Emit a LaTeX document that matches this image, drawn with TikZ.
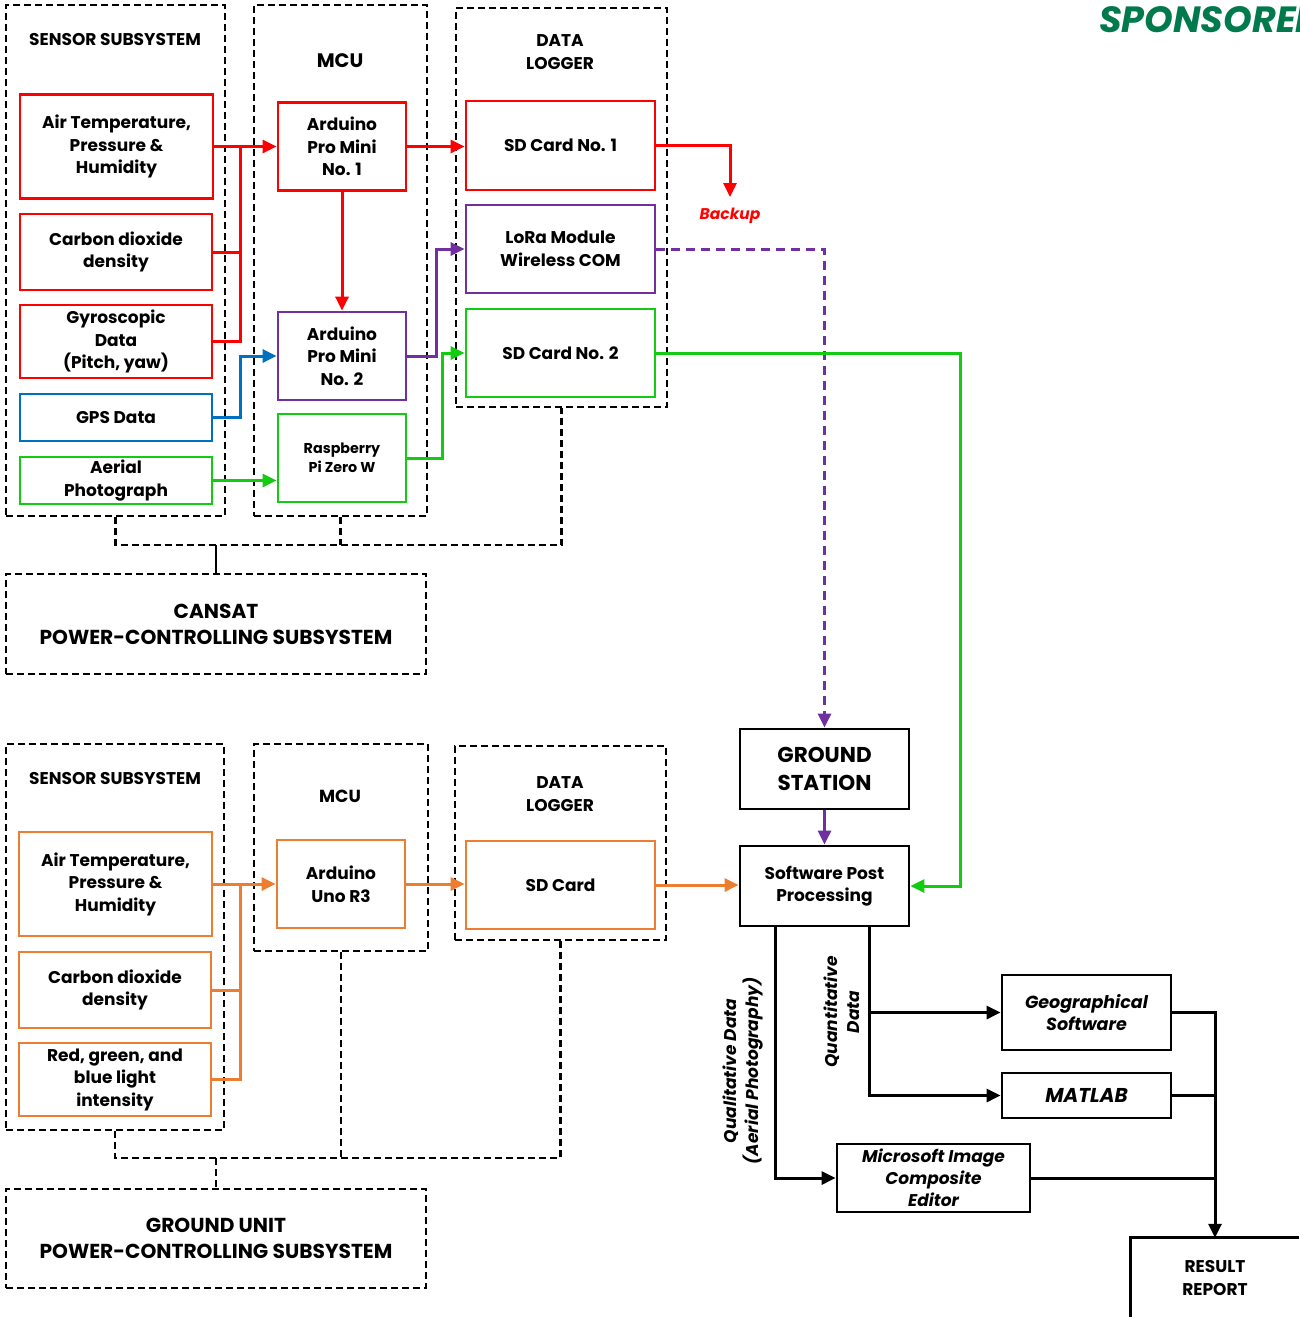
\documentclass[tikz,border=0pt]{standalone}
\usepackage{fontspec}
\setmainfont{Poppins}
\usetikzlibrary{arrows.meta}
\definecolor{cred}{HTML}{FF0000}
\definecolor{cpur}{HTML}{7030A0}
\definecolor{cblu}{HTML}{0070C0}
\definecolor{cgrn}{HTML}{11CC11}
\definecolor{corg}{HTML}{ED7D31}
\definecolor{cspon}{HTML}{007A4D}
\begin{document}
\begin{tikzpicture}[x=1pt,y=-1pt,
  box/.style={draw, line width=2.8pt, rectangle, align=center, inner sep=0pt,
    font=\fontsize{17}{22.5}\selectfont\bfseries},
  ibox/.style={box, font=\fontsize{17.5}{22}\selectfont\bfseries\itshape},
  grp/.style={draw, line width=2.2pt, dash pattern=on 7pt off 4pt, rectangle, inner sep=0pt},
  pw/.style={line width=2.2pt, dash pattern=on 7pt off 4pt},
  ttl/.style={align=center, inner sep=0pt, font=\fontsize{17}{22.5}\selectfont\bfseries},
  con/.style={line width=3pt},
  arr/.style={con, -{Triangle[length=14pt,width=13pt]}},
]
\useasboundingbox (0,0) rectangle (1299,1317);

% ---------- top section containers ----------
\node[grp, minimum width=219, minimum height=511] (s1) at (115.5,260.5) {};
\node[grp, minimum width=173, minimum height=511] (m1) at (340.5,260.5) {};
\node[grp, minimum width=211, minimum height=399] (d1) at (561.5,207.5) {};
\node[ttl] (s1t) at (115,40) {SENSOR SUBSYSTEM};
\node[ttl, font=\fontsize{19.5}{22}\selectfont\bfseries] (m1t) at (340,61) {MCU};
\node[ttl] (d1t) at (560,52) {DATA\\LOGGER};

% sensors
\node[box, draw=cred, minimum width=193, minimum height=104] (air) at (116.5,146.5) {Air Temperature,\\Pressure \&\\Humidity};
\node[box, draw=cred, minimum width=192, minimum height=76] (co2) at (116,252) {Carbon dioxide\\density};
\node[box, draw=cred, minimum width=192, minimum height=73] (gyro) at (116,341.5) {Gyroscopic\\Data\\(Pitch, yaw)};
\node[box, draw=cblu, minimum width=192, minimum height=47] (gps) at (116,417.5) {GPS Data};
\node[box, draw=cgrn, minimum width=192, minimum height=47] (aer) at (116,480.5) {Aerial\\Photograph};
% MCU
\node[box, draw=cred, minimum width=128, minimum height=88] (ard1) at (342,146.5) {Arduino\\Pro Mini\\No. 1};
\node[box, draw=cpur, minimum width=128, minimum height=88] (ard2) at (342,356) {Arduino\\Pro Mini\\No. 2};
\node[box, draw=cgrn, minimum width=128, minimum height=88, font=\fontsize{14.3}{19.5}\selectfont\bfseries] (rasp) at (342,458) {Raspberry\\Pi Zero W};
% data logger
\node[box, draw=cred, minimum width=189, minimum height=89] (sd1) at (560.5,145.5) {SD Card No. 1};
\node[box, draw=cpur, minimum width=189, minimum height=88] (lora) at (560.5,249) {LoRa Module\\Wireless COM};
\node[box, draw=cgrn, minimum width=189, minimum height=88] (sd2) at (560.5,353) {SD Card No. 2};

% power (top)
\node[grp, minimum width=420, minimum height=100, align=center, font=\fontsize{20.2}{26}\selectfont\bfseries] (cansat) at (216,624) {CANSAT\\POWER-CONTROLLING SUBSYSTEM};
\coordinate (j1) at (216,545);
\draw[pw] (s1.south) -- (s1.south |- j1) -- (d1.south |- j1) -- (d1.south);
\draw[pw] (m1.south) -- (m1.south |- j1);
\draw[line width=2.2pt] (j1) -- (cansat.north);

% red connectors
\coordinate (rbus) at (240,146.5);
\draw[con, cred] (gyro.east) -| (rbus);
\draw[con, cred] (co2.east) -- (co2.east -| rbus);
\draw[arr, cred] (air.east) -- (ard1.west);
\draw[arr, cred] (ard1.east) -- (ard1.east -| sd1.west);
\draw[arr, cred] (ard1.south) -- (ard2.north);
\coordinate (bk) at (730,197);
\draw[arr, cred] (sd1.east) -| (bk);
\node[text=cred, font=\fontsize{15.5}{17}\selectfont\bfseries\itshape] (backup) at (730,216) {Backup};
% blue
\draw[arr, cblu] (gps.east) -- (gps.east -| rbus) |- (ard2.west);
% green
\draw[arr, cgrn] (aer.east) -- (aer.east -| rasp.west);
\coordinate (gb) at (442,458);
\draw[arr, cgrn] (rasp.east) -- (gb) |- (sd2.west);
% purple
\coordinate (pb) at (436,356);
\draw[arr, cpur] (ard2.east) -- (pb) |- (lora.west);

% ---------- right side ----------
\node[box, minimum width=169, minimum height=80, font=\fontsize{21.5}{28}\selectfont\bfseries] (gs) at (824.5,769) {GROUND\\STATION};
\node[box, minimum width=169, minimum height=80] (sw) at (824.5,886) {Software Post\\Processing};
\draw[arr, cpur, dash pattern=on 9pt off 6pt] (lora.east) -| (gs.north);
\draw[arr, cpur] (gs.south) -- (sw.north);
\coordinate (gr) at (960,353);
\draw[arr, cgrn] (sd2.east) -- (gr) |- (sw.east);

\node[ibox, minimum width=169, minimum height=75] (geo) at (1086.5,1012.5) {Geographical\\Software};
\node[ibox, minimum width=169, minimum height=45, font=\fontsize{20}{22}\selectfont\bfseries\itshape] (mat) at (1086.5,1095.5) {MATLAB};
\node[ibox, minimum width=193, minimum height=68, font=\fontsize{17}{22}\selectfont\bfseries\itshape] (mice) at (933.5,1178) {Microsoft Image\\Composite\\Editor};
\node[ttl, minimum width=168, minimum height=80] (rr) at (1215,1278) {RESULT\\REPORT};
\draw[line width=2.8pt] (rr.north east) -- (rr.north west) -- (rr.south west);

\coordinate (qlx) at (775,0);
\coordinate (qnx) at (869,0);
\draw[arr] (sw.south -| qlx) |- (mice.west);
\draw[arr] (sw.south -| qnx) |- (mat.west);
\draw[arr] (geo.west -| qnx) -- (geo.west);
\draw[arr] (geo.east) -| (rr.north);
\draw[con] (mat.east) -- (mat.east -| rr.north);
\draw[con] (mice.east) -- (mice.east -| rr.north);

\node[rotate=90, align=center, inner sep=0pt, font=\fontsize{17}{22}\selectfont\bfseries\itshape] (qual) at (743,1071) {Qualitative Data\\(Aerial Photography)};
\node[rotate=90, align=center, inner sep=0pt, font=\fontsize{17}{22}\selectfont\bfseries\itshape] (quan) at (842,1012) {Quantitative\\Data};

\node[anchor=west, inner sep=0pt, text=cspon, font=\fontsize{36.5}{40}\selectfont\bfseries\itshape] (spon) at (1099,20) {SPONSORED};

% ---------- bottom section ----------
\node[grp, minimum width=218, minimum height=386] (s2) at (115,937) {};
\node[grp, minimum width=174, minimum height=207] (m2) at (341,847.5) {};
\node[grp, minimum width=211, minimum height=194] (d2) at (560.5,843) {};
\node[ttl] (s2t) at (115,778) {SENSOR SUBSYSTEM};
\node[ttl, font=\fontsize{17.5}{20}\selectfont\bfseries] (m2t) at (340,796) {MCU};
\node[ttl] (d2t) at (560,794) {DATA\\LOGGER};

\node[box, draw=corg, minimum width=193, minimum height=104] (air2) at (115.5,884) {Air Temperature,\\Pressure \&\\Humidity};
\node[box, draw=corg, minimum width=192, minimum height=76] (co22) at (115,990) {Carbon dioxide\\density};
\node[box, draw=corg, minimum width=192, minimum height=73] (rgb) at (115,1079.5) {Red, green, and\\blue light\\intensity};
\node[box, draw=corg, minimum width=128, minimum height=88] (uno) at (341,884) {Arduino\\Uno R3};
\node[box, draw=corg, minimum width=189, minimum height=88] (sdc) at (560.5,885) {SD Card};

\coordinate (obus) at (240,884);
\draw[con, corg] (rgb.east) -| (obus);
\draw[con, corg] (co22.east) -- (co22.east -| obus);
\draw[arr, corg] (air2.east) -- (uno.west);
\draw[arr, corg] (uno.east) -- (uno.east -| sdc.west);
\draw[arr, corg] (sdc.east) -- (sdc.east -| sw.west);

\node[grp, minimum width=420, minimum height=99, align=center, font=\fontsize{20.2}{26}\selectfont\bfseries] (gu) at (216,1238.5) {GROUND UNIT\\POWER-CONTROLLING SUBSYSTEM};
\coordinate (j2) at (216,1158);
\draw[pw] (s2.south) -- (s2.south |- j2) -- (d2.south |- j2) -- (d2.south);
\draw[pw] (m2.south) -- (m2.south |- j2);
\draw[pw] (j2) -- (gu.north);
\end{tikzpicture}
\end{document}
